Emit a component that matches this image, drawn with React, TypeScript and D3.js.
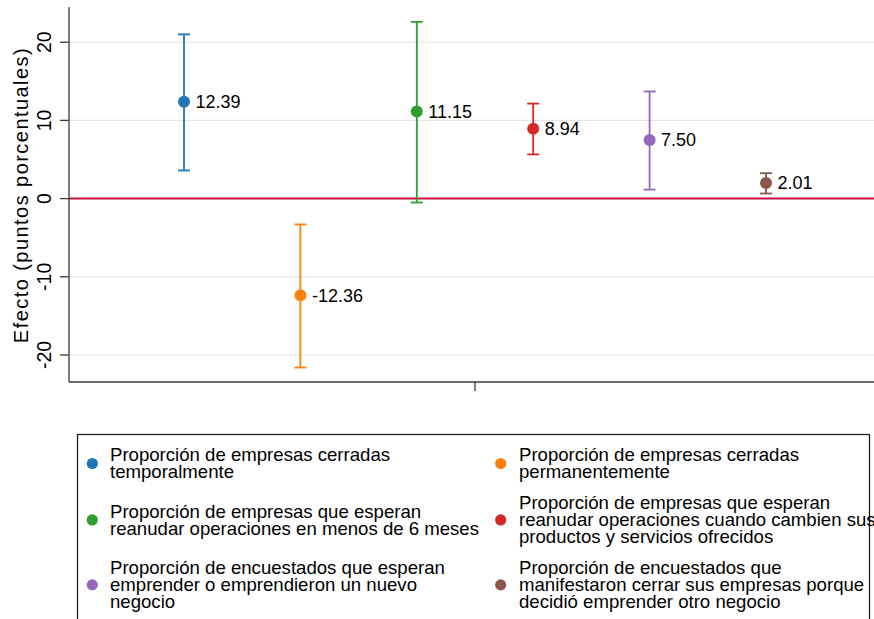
import React from "react";
import * as d3 from "d3";

const categories = [
  "Proporción de empresas cerradas temporalmente",
  "Proporción de empresas cerradas permanentemente",
  "Proporción de empresas que esperan reanudar operaciones en menos de 6 meses",
  "Proporción de empresas que esperan reanudar operaciones cuando cambien sus productos y servicios ofrecidos",
  "Proporción de encuestados que esperan emprender o emprendieron un nuevo negocio",
  "Proporción de encuestados que manifestaron cerrar sus empresas porque decidió emprender otro negocio",
];
const estimates = [12.39, -12.36, 11.15, 8.94, 7.5, 2.01];
const lower = [3.6, -21.6, -0.5, 5.65, 1.15, 0.65];
const upper = [21.0, -3.3, 22.6, 12.15, 13.7, 3.25];
const colors = ["#1f77b4", "#ff7f0e", "#2ca02c", "#d62728", "#9467bd", "#8c564b"];
const yTicks = [-20, -10, 0, 10, 20];
const legendLines = [
  ["Proporción de empresas cerradas", "temporalmente"],
  ["Proporción de empresas cerradas", "permanentemente"],
  ["Proporción de empresas que esperan", "reanudar operaciones en menos de 6 meses"],
  ["Proporción de empresas que esperan", "reanudar operaciones cuando cambien sus", "productos y servicios ofrecidos"],
  ["Proporción de encuestados que esperan", "emprender o emprendieron un nuevo", "negocio"],
  ["Proporción de encuestados que", "manifestaron cerrar sus empresas porque", "decidió emprender otro negocio"],
];

const W = 874;
const H = 619;
const FONT = "'Liberation Sans', Arial, Helvetica, sans-serif";

export default function App() {
  const left = 69, right = 881, top = 7, bottom = 382;
  const x = d3.scalePoint<string>().domain(categories).range([left, right]).padding(0.988);
  const y = d3.scaleLinear().domain([-23.45, 24.5]).range([bottom, top]);
  const xMid = (left + right) / 2;

  // legend layout
  const lineH = 16.9;
  const rowGap = 14.2;
  const legTop = 434.5;
  const rows = [0, 1, 2].map((r) => {
    const a = legendLines[r * 2].length;
    const b = legendLines[r * 2 + 1].length;
    return Math.max(a, b);
  });
  const rowCenters: number[] = [];
  let cur = 463.5 - (rows[0] * lineH) / 2;
  rows.forEach((n) => {
    rowCenters.push(cur + (n * lineH) / 2);
    cur += n * lineH + rowGap;
  });
  const colMarker = [92.3, 500.7];
  const colText = [110, 519];

  return (
    <svg
      width={W}
      height={H}
      style={{ position: "absolute", left: 0, top: 0, background: "#fff" }}
      fontFamily={FONT}
    >
      <rect x={0} y={0} width={W} height={H} fill="#fff" />
      {/* gridlines */}
      {yTicks.filter((t) => t !== 0).map((t) => (
        <line key={"g" + t} x1={left} x2={right} y1={y(t)} y2={y(t)} stroke="#e6e6e6" strokeWidth={1.2} />
      ))}
      {/* zero line */}
      <line x1={left} x2={right} y1={y(0)} y2={y(0)} stroke="#c8103e" strokeWidth={2} />
      {/* axes */}
      <line x1={left} x2={left} y1={top} y2={bottom} stroke="#3a3a3a" strokeWidth={1.3} />
      <line x1={left} x2={right} y1={bottom} y2={bottom} stroke="#3a3a3a" strokeWidth={1.3} />
      <line x1={xMid} x2={xMid} y1={bottom} y2={bottom + 9} stroke="#3a3a3a" strokeWidth={1.3} />
      {yTicks.map((t) => (
        <g key={"t" + t}>
          <line x1={left - 9} x2={left} y1={y(t)} y2={y(t)} stroke="#3a3a3a" strokeWidth={1.3} />
          <text
            transform={`translate(${51},${y(t)}) rotate(-90)`}
            textAnchor="middle"
            fontSize={19.5}
            fill="#000"
          >
            {t}
          </text>
        </g>
      ))}
      <text
        transform={`translate(${28},${195}) rotate(-90)`}
        textAnchor="middle"
        fontSize={20}
        letterSpacing={1.45}
        fill="#000"
      >
        Efecto (puntos porcentuales)
      </text>
      {/* error bars and points */}
      {categories.map((c, i) => {
        const cx = x(c)!;
        return (
          <g key={c} stroke={colors[i]} strokeWidth={1.8}>
            <line x1={cx} x2={cx} y1={y(lower[i])} y2={y(upper[i])} />
            <line x1={cx - 6} x2={cx + 6} y1={y(lower[i])} y2={y(lower[i])} />
            <line x1={cx - 6} x2={cx + 6} y1={y(upper[i])} y2={y(upper[i])} />
            <circle cx={cx} cy={y(estimates[i])} r={6} fill={colors[i]} stroke="none" />
            <text
              x={cx + 11.5}
              y={y(estimates[i])}
              dy="0.36em"
              fontSize={18}
              fill="#000"
              stroke="none"
            >
              {estimates[i].toFixed(2)}
            </text>
          </g>
        );
      })}
      {/* legend */}
      <rect x={77.5} y={legTop} width={792} height={H} fill="none" stroke="#222" strokeWidth={1.3} />
      {legendLines.map((lines, i) => {
        const r = Math.floor(i / 2);
        const col = i % 2;
        const center = rowCenters[r];
        const n = lines.length;
        const firstBase = center - ((n - 1) * lineH) / 2 + 6.4;
        return (
          <g key={"l" + i}>
            <circle cx={colMarker[col]} cy={center} r={5.6} fill={colors[i]} />
            {lines.map((ln, k) => (
              <text key={k} x={colText[col]} y={firstBase + k * lineH} fontSize={18.6} fill="#000">
                {ln}
              </text>
            ))}
          </g>
        );
      })}
    </svg>
  );
}
